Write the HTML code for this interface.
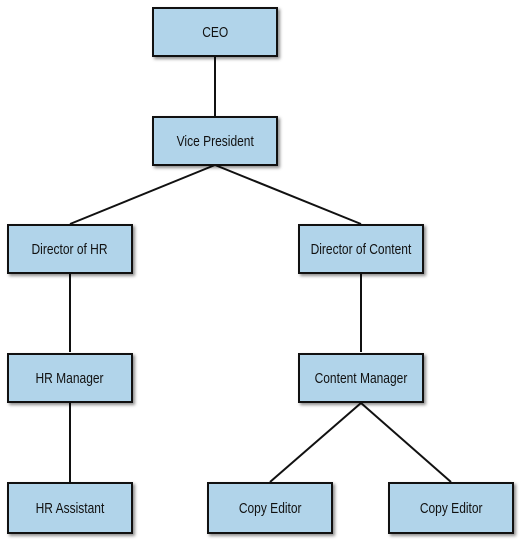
<!DOCTYPE html>
<html><head><style>
body{margin:0;width:525px;height:540px;background:#fff;position:relative;overflow:hidden}
.b{position:absolute;width:122px;height:46px;background:#b1d4ea;border:2px solid #111;box-shadow:2px 2px 3px rgba(0,0,0,.45);display:flex;align-items:center;justify-content:center;font-family:"Liberation Sans",sans-serif;font-size:15px;color:#111}
.b span{display:inline-block;transform:scaleX(0.8);white-space:nowrap}
svg{position:absolute;left:0;top:0}
</style></head><body>
<svg width="525" height="540"><g stroke="#111" stroke-width="2" fill="none">
<line x1="215" y1="57" x2="215" y2="116"/>
<line x1="215" y1="165" x2="70" y2="224"/>
<line x1="215" y1="165" x2="361" y2="224"/>
<line x1="70" y1="273" x2="70" y2="352"/>
<line x1="361" y1="273" x2="361" y2="352"/>
<line x1="70" y1="403" x2="70" y2="482"/>
<line x1="361" y1="403" x2="270" y2="482"/>
<line x1="361" y1="403" x2="451" y2="482"/>
</g></svg>
<div class="b" style="left:152px;top:7px"><span>CEO</span></div>
<div class="b" style="left:152px;top:116px"><span>Vice President</span></div>
<div class="b" style="left:7px;top:224px"><span>Director of HR</span></div>
<div class="b" style="left:298px;top:224px"><span>Director of Content</span></div>
<div class="b" style="left:7px;top:353px"><span>HR Manager</span></div>
<div class="b" style="left:298px;top:353px"><span>Content Manager</span></div>
<div class="b" style="left:7px;top:482px;height:48px"><span>HR Assistant</span></div>
<div class="b" style="left:207px;top:482px;height:48px"><span>Copy Editor</span></div>
<div class="b" style="left:388px;top:482px;height:48px"><span>Copy Editor</span></div>
</body></html>
